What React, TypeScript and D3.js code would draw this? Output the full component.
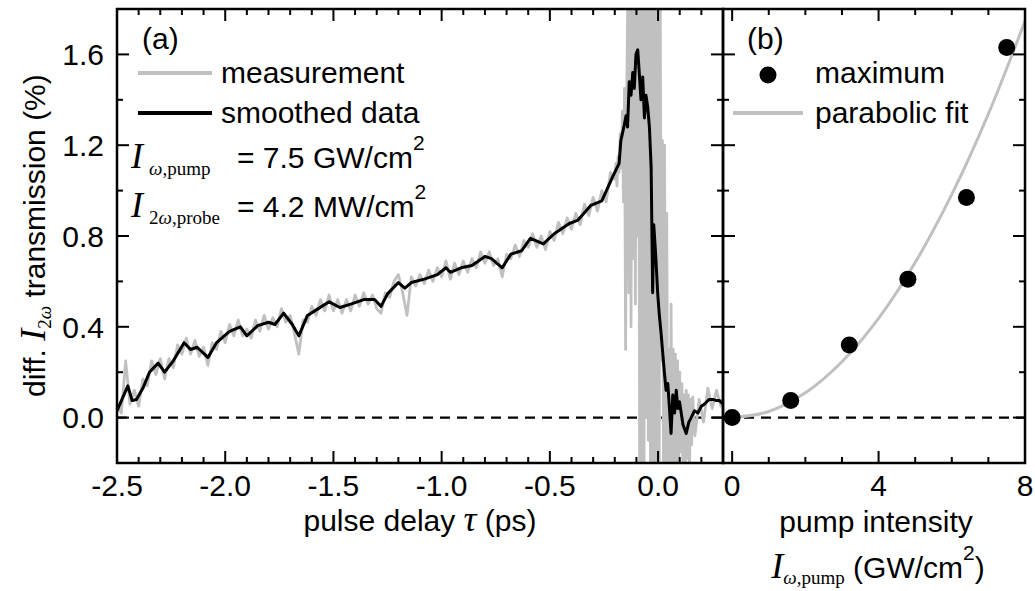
import React from "react";
import * as d3 from "d3";

// ---------- data ----------
// panel (a): raw measurement (three segments)
const measStartA = -2.5;
const measStepA = 0.02;
const measValuesA = [
  0.06, 0.02, 0.25, 0.06, 0.12, 0.05, 0.17, 0.14, 0.25, 0.19,
  0.26, 0.17, 0.26, 0.22, 0.32, 0.28, 0.35, 0.28, 0.34, 0.27,
  0.31, 0.23, 0.33, 0.30, 0.38, 0.33, 0.41, 0.36, 0.43, 0.36,
  0.39, 0.35, 0.43, 0.38, 0.45, 0.39, 0.44, 0.40, 0.48, 0.42,
  0.45, 0.37, 0.28, 0.43, 0.42, 0.49, 0.45, 0.52, 0.47, 0.54,
  0.47, 0.52, 0.46, 0.52, 0.47, 0.54, 0.49, 0.55, 0.50, 0.54,
  0.48, 0.46, 0.55, 0.53, 0.60, 0.63, 0.55, 0.45, 0.62, 0.58,
  0.63, 0.59, 0.65, 0.60, 0.66, 0.62, 0.69, 0.61, 0.68, 0.63,
  0.69, 0.64, 0.70, 0.66, 0.73, 0.68, 0.73, 0.67, 0.70, 0.62,
  0.72, 0.70, 0.76, 0.71, 0.78, 0.75, 0.81, 0.75, 0.80, 0.74,
  0.82, 0.78, 0.86, 0.81, 0.88, 0.83, 0.90, 0.85, 0.94, 0.89,
  0.97, 0.91, 1.00, 0.95, 1.08,
];
const measStartB = -0.2;
const measStepB = 0.005;
const measValuesB = [
  1.05, 1.12, 1.02, 1.15, 1.08, 1.25, 1.10, 1.35, 0.95, 1.45,
  0.30, 1.40, 1.85, 0.55, 1.90, 0.40, 1.95, 0.70, 1.90, 0.50,
  1.95, 0.80, 1.90, -0.25, 1.95, -0.30, 1.90, -0.25, 1.95, 0.00,
  1.90, -0.10, 1.85, -0.30, 1.95, -0.25, 1.90, -0.30, 1.85, -0.25,
  1.90, -0.30, 1.85, 0.25, 1.22, -0.25, 1.20, -0.30, 0.90, -0.25,
  0.30, -0.30, 0.50, -0.25, 0.30, -0.30, 0.28, -0.25, 0.25, -0.28,
  0.20, -0.15, 0.15, -0.25, 0.10, -0.30, 0.12, -0.18, 0.10, -0.25,
  0.08, -0.12, 0.09,
];
const measTailTimes = [0.17, 0.19, 0.21, 0.23, 0.25, 0.27, 0.29, 0.3];
const measTailValues = [-0.08, 0.08, -0.02, 0.13, 0.04, 0.12, 0.05, 0.08];

// panel (a): smoothed data
const smoothTimes = [
  -2.5, -2.45, -2.43, -2.41, -2.38, -2.35, -2.31, -2.28, -2.24, -2.19,
  -2.16, -2.13, -2.08, -2.04, -1.98, -1.93, -1.9, -1.85, -1.8, -1.77,
  -1.73, -1.69, -1.66, -1.62, -1.57, -1.52, -1.47, -1.42, -1.36, -1.31,
  -1.28, -1.25, -1.2, -1.17, -1.14, -1.08, -1.02, -0.98, -0.96, -0.91,
  -0.86, -0.8, -0.77, -0.72, -0.68, -0.63, -0.59, -0.53, -0.48, -0.41,
  -0.37, -0.31, -0.26, -0.21, -0.18,
  -0.172, -0.156, -0.148, -0.141, -0.133, -0.125, -0.117, -0.11, -0.102, -0.094,
  -0.087, -0.079, -0.071, -0.063, -0.056, -0.048, -0.04, -0.032, -0.025, -0.02,
  -0.01, -0.002, 0.006, 0.014, 0.022, 0.029, 0.037, 0.045, 0.052, 0.06,
  0.068, 0.076, 0.084, 0.091, 0.099, 0.107, 0.115, 0.13, 0.142, 0.153,
  0.168, 0.184, 0.2, 0.215, 0.235, 0.253, 0.27, 0.284, 0.3,
];
const smoothValues = [
  0.03, 0.14, 0.075, 0.08, 0.13, 0.2, 0.24, 0.2, 0.25, 0.33,
  0.3, 0.31, 0.265, 0.33, 0.38, 0.4, 0.36, 0.405, 0.42, 0.41,
  0.46, 0.41, 0.36, 0.45, 0.48, 0.51, 0.485, 0.5, 0.52, 0.52,
  0.49, 0.545, 0.595, 0.57, 0.595, 0.61, 0.63, 0.66, 0.64, 0.66,
  0.67, 0.71, 0.7, 0.66, 0.72, 0.735, 0.79, 0.765, 0.81, 0.855,
  0.87, 0.935, 0.955, 1.06, 1.12,
  1.22, 1.29, 1.33, 1.28, 1.48, 1.42, 1.52, 1.45, 1.6, 1.62,
  1.52, 1.4, 1.5, 1.32, 1.42, 1.37, 1.28, 1.1, 0.55, 0.85,
  0.7, 0.55, 0.45, 0.37, 0.28, 0.2, 0.12, 0.15, 0.05, -0.07,
  0.1, 0.02, 0.12, 0.04, 0.07, 0.02, -0.03, -0.07, -0.02, 0.0,
  0.03, 0.02, 0.05, 0.06, 0.08, 0.08, 0.075, 0.075, 0.06,
];

// panel (b): maxima and parabolic fit
const pumpIntensity = [0, 1.6, 3.2, 4.8, 6.4, 7.5];
const maxTransmission = [0, 0.075, 0.32, 0.61, 0.97, 1.63];
const fitIntensity = [0, 1, 2, 3, 4, 5, 6, 7, 8];
const fitTransmission = [0, 0.027, 0.109, 0.246, 0.437, 0.683, 0.983, 1.338, 1.747];

// ticks
const yMajor = [0, 0.4, 0.8, 1.2, 1.6];
const yTickLabels = ["0.0", "0.4", "0.8", "1.2", "1.6"];
const yMinor = [0.2, 0.6, 1.0, 1.4];
const tauMajor = [-2.5, -2.0, -1.5, -1.0, -0.5, 0.0];
const tauTickLabels = ["-2.5", "-2.0", "-1.5", "-1.0", "-0.5", "0.0"];
const tauMinor = [
  -2.4, -2.3, -2.2, -2.1, -1.9, -1.8, -1.7, -1.6, -1.4, -1.3, -1.2, -1.1,
  -0.9, -0.8, -0.7, -0.6, -0.4, -0.3, -0.2, -0.1, 0.1, 0.2,
];
const pumpMajor = [0, 4, 8];
const pumpTickLabels = ["0", "4", "8"];
const pumpMinor = [1, 2, 3, 5, 6, 7];

// ---------- layout ----------
const W = 1035;
const H = 591;
const top = 9;
const bottom = 463;
const aLeft = 117;
const mid = 723;
const bRight = 1025;
const MAJ = 12;
const MIN = 6;
const SANS = "'Liberation Sans', Arial, Helvetica, sans-serif";
const SERIF = "'Liberation Serif', 'Times New Roman', serif";
const GRAY = "#c0c0c0";
const ISIZE = 36;

export default function App() {
  const xA = d3.scaleLinear().domain([-2.5, 0.3]).range([aLeft, mid]);
  const xB = d3.scaleLinear().domain([-0.25, 8]).range([mid, bRight]);
  const y = d3.scaleLinear().domain([-0.2, 1.8]).range([bottom, top]);

  const measPts: [number, number][] = [
    ...measValuesA.map((v, i) => [measStartA + i * measStepA, v] as [number, number]),
    ...measValuesB.map((v, i) => [measStartB + i * measStepB, v] as [number, number]),
    ...measTailValues.map((v, i) => [measTailTimes[i], v] as [number, number]),
  ];
  const smoothPts: [number, number][] = smoothValues.map((v, i) => [smoothTimes[i], v]);

  const lineA = d3
    .line<[number, number]>()
    .x((d) => xA(d[0]))
    .y((d) => y(d[1]));
  const fitLine = d3
    .line<[number, number]>()
    .x((d) => xB(d[0]))
    .y((d) => y(d[1]))
    .curve(d3.curveCatmullRom);
  const fitPts: [number, number][] = fitTransmission.map((v, i) => [fitIntensity[i], v]);

  const tk = { stroke: "#000", strokeWidth: 2 };

  const ticks: React.ReactNode[] = [];
  tauMajor.forEach((t, i) => {
    ticks.push(<line key={"am" + i} x1={xA(t)} x2={xA(t)} y1={bottom} y2={bottom - MAJ} {...tk} />);
    ticks.push(<line key={"amt" + i} x1={xA(t)} x2={xA(t)} y1={top} y2={top + MAJ} {...tk} />);
  });
  tauMinor.forEach((t, i) => {
    ticks.push(<line key={"an" + i} x1={xA(t)} x2={xA(t)} y1={bottom} y2={bottom - MIN} {...tk} />);
    ticks.push(<line key={"ant" + i} x1={xA(t)} x2={xA(t)} y1={top} y2={top + MIN} {...tk} />);
  });
  pumpMajor.forEach((t, i) => {
    ticks.push(<line key={"bm" + i} x1={xB(t)} x2={xB(t)} y1={bottom} y2={bottom - MAJ} {...tk} />);
    ticks.push(<line key={"bmt" + i} x1={xB(t)} x2={xB(t)} y1={top} y2={top + MAJ} {...tk} />);
  });
  pumpMinor.forEach((t, i) => {
    ticks.push(<line key={"bn" + i} x1={xB(t)} x2={xB(t)} y1={bottom} y2={bottom - MIN} {...tk} />);
    ticks.push(<line key={"bnt" + i} x1={xB(t)} x2={xB(t)} y1={top} y2={top + MIN} {...tk} />);
  });
  const yt = (v: number, len: number, k: string) => {
    const yy = y(v);
    ticks.push(<line key={k + "1"} x1={aLeft} x2={aLeft + len} y1={yy} y2={yy} {...tk} />);
    ticks.push(<line key={k + "2"} x1={mid - len} x2={mid + len} y1={yy} y2={yy} {...tk} />);
    ticks.push(<line key={k + "3"} x1={bRight} x2={bRight - len} y1={yy} y2={yy} {...tk} />);
  };
  yMajor.forEach((v, i) => yt(v, MAJ, "ym" + i));
  yMinor.forEach((v, i) => yt(v, MIN, "yn" + i));

  return (
    <svg
      width={W}
      height={H}
      viewBox={`0 0 ${W} ${H}`}
      style={{ position: "absolute", left: 0, top: 0, background: "#fff" }}
      fontFamily={SANS}
    >
      <rect x={0} y={0} width={W} height={H} fill="#fff" />
      <defs>
        <clipPath id="clipA">
          <rect x={aLeft} y={top} width={mid - aLeft} height={bottom - top} />
        </clipPath>
        <clipPath id="clipB">
          <rect x={mid} y={top} width={bRight - mid} height={bottom - top} />
        </clipPath>
      </defs>

      {/* zero lines */}
      <line x1={aLeft} x2={mid} y1={y(0)} y2={y(0)} stroke="#000" strokeWidth={2.3} strokeDasharray="10,7" />
      <line x1={mid} x2={bRight} y1={y(0)} y2={y(0)} stroke="#000" strokeWidth={2.3} strokeDasharray="10,7" strokeDashoffset={-4} />

      {/* panel a data */}
      <g clipPath="url(#clipA)">
        <path d={lineA(measPts) || ""} fill="none" stroke={GRAY} strokeWidth={2.8} strokeLinejoin="round" />
        <path d={lineA(smoothPts) || ""} fill="none" stroke="#000" strokeWidth={3} strokeLinejoin="round" />
      </g>

      {/* panel b data */}
      <g clipPath="url(#clipB)">
        <path d={fitLine(fitPts) || ""} fill="none" stroke={GRAY} strokeWidth={3} />
      </g>
      {maxTransmission.map((v, i) => (
        <circle key={"pt" + i} cx={xB(pumpIntensity[i])} cy={y(v)} r={8.5} fill="#000" />
      ))}

      {/* frames */}
      <rect x={aLeft} y={top} width={mid - aLeft} height={bottom - top} fill="none" stroke="#000" strokeWidth={2.5} />
      <rect x={mid} y={top} width={bRight - mid} height={bottom - top} fill="none" stroke="#000" strokeWidth={2.5} />
      {ticks}

      {/* tick labels */}
      {yMajor.map((v, i) => (
        <text key={"yl" + i} x={104} y={y(v)} dy="0.36em" textAnchor="end" fontSize={30}>
          {yTickLabels[i]}
        </text>
      ))}
      {tauMajor.map((t, i) => (
        <text key={"xl" + i} x={xA(t)} y={496} textAnchor="middle" fontSize={30}>
          {tauTickLabels[i]}
        </text>
      ))}
      {pumpMajor.map((t, i) => (
        <text key={"pl" + i} x={xB(t)} y={496} textAnchor="middle" fontSize={30}>
          {pumpTickLabels[i]}
        </text>
      ))}

      {/* axis titles */}
      <text transform="translate(45,397) rotate(-90)" fontSize={30}>
        diff.{" "}
        <tspan fontFamily={SERIF} fontStyle="italic" fontSize={ISIZE}>I</tspan>
        <tspan fontFamily={SERIF} fontSize={19} dy={6}>2</tspan>
        <tspan fontFamily={SERIF} fontSize={19} fontStyle="italic">ω</tspan>
        <tspan dy={-6}> transmission (%)</tspan>
      </text>
      <text x={420} y={531} textAnchor="middle" fontSize={30}>
        pulse delay{" "}
        <tspan fontFamily={SERIF} fontStyle="italic" fontSize={ISIZE}>τ</tspan>
        <tspan> (ps)</tspan>
      </text>
      <text x={876} y={532} textAnchor="middle" fontSize={30}>
        pump intensity
      </text>
      <text x={878} y={578} textAnchor="middle" fontSize={30}>
        <tspan fontFamily={SERIF} fontStyle="italic" fontSize={ISIZE}>I</tspan>
        <tspan fontFamily={SERIF} fontSize={19} dy={6} fontStyle="italic">ω</tspan>
        <tspan fontFamily={SERIF} fontSize={19}>,pump</tspan>
        <tspan dy={-6}> (GW/cm</tspan>
        <tspan fontSize={21} dy={-18}>2</tspan>
        <tspan dy={18}>)</tspan>
      </text>

      {/* panel a legend */}
      <text x={142} y={49} fontSize={30}>(a)</text>
      <line x1={138} x2={212} y1={73} y2={73} stroke={GRAY} strokeWidth={4} />
      <text x={221} y={83} fontSize={30}>measurement</text>
      <line x1={138} x2={212} y1={113} y2={113} stroke="#000" strokeWidth={4} />
      <text x={221} y={123} fontSize={30}>smoothed data</text>

      <text y={168} fontSize={30}>
        <tspan x={131} fontFamily={SERIF} fontStyle="italic" fontSize={ISIZE}>I</tspan>
        <tspan x={149} dy={7} fontFamily={SERIF} fontSize={19} fontStyle="italic">ω</tspan>
        <tspan fontFamily={SERIF} fontSize={19}>,pump</tspan>
        <tspan x={237} dy={-7}>= 7.5 GW/cm</tspan>
        <tspan fontSize={21} dy={-18}>2</tspan>
      </text>
      <text y={217} fontSize={30}>
        <tspan x={131} fontFamily={SERIF} fontStyle="italic" fontSize={ISIZE}>I</tspan>
        <tspan x={149} dy={7} fontFamily={SERIF} fontSize={19}>2</tspan>
        <tspan fontFamily={SERIF} fontSize={19} fontStyle="italic">ω</tspan>
        <tspan fontFamily={SERIF} fontSize={19}>,probe</tspan>
        <tspan x={237} dy={-7}>= 4.2 MW/cm</tspan>
        <tspan fontSize={21} dy={-18}>2</tspan>
      </text>

      {/* panel b legend */}
      <text x={747} y={49} fontSize={30}>(b)</text>
      <circle cx={768} cy={75} r={8.5} fill="#000" />
      <text x={815} y={83} fontSize={30}>maximum</text>
      <line x1={733} x2={803} y1={113} y2={113} stroke={GRAY} strokeWidth={4} />
      <text x={815} y={123} fontSize={30}>parabolic fit</text>
    </svg>
  );
}
